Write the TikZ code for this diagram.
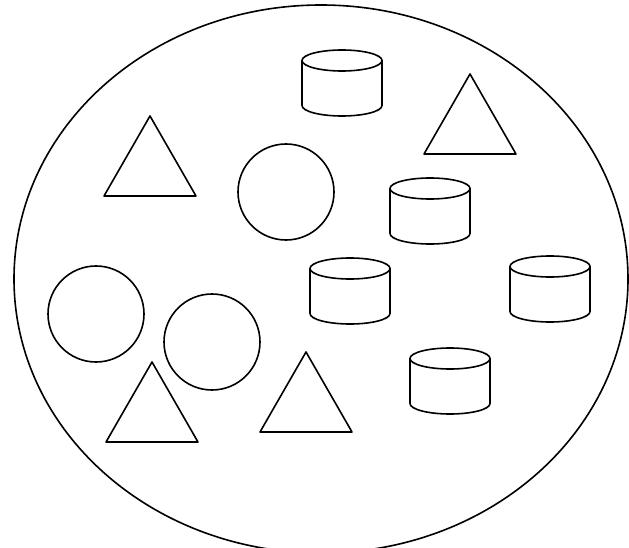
\documentclass[tikz,border=0pt]{standalone}
\begin{document}
\begin{tikzpicture}[
    x=1pt, y=-1pt,
    line cap=round,
    line join=round,
    outline/.style={line width=1.6pt},
    figure/.style={line width=1.6pt}
]
\useasboundingbox (0,0) rectangle (629,548);

% -------------------------------------------------
% Большой овал (множество)
% -------------------------------------------------
\coordinate (O) at (321,279);
\draw[outline] (O) ellipse [x radius=307, y radius=274];

% -------------------------------------------------
% Круги
% -------------------------------------------------
\coordinate (K1) at (286,192);  % верхний
\coordinate (K2) at (96,314);   % левый
\coordinate (K3) at (212,342);  % правее левого

\foreach \k in {K1,K2,K3}
    \draw[figure] (\k) circle [radius=48];

% -------------------------------------------------
% Треугольники (по вершине)
% -------------------------------------------------
\coordinate (T1) at (150,116);  % левый верхний
\coordinate (T2) at (470,74);   % правый верхний
\coordinate (T3) at (152,362);  % левый нижний
\coordinate (T4) at (306,352);  % средний нижний

\foreach \t in {T1,T2,T3,T4}
    \draw[figure] (\t) -- ++(46,80) -- ++(-92,0) -- cycle;

% -------------------------------------------------
% Цилиндры (левый верхний угол)
% -------------------------------------------------
\coordinate (Z1) at (302,50);
\coordinate (Z2) at (390,178);
\coordinate (Z3) at (310,258);
\coordinate (Z4) at (510,256);
\coordinate (Z5) at (410,348);

\foreach \z in {Z1,Z2,Z3,Z4,Z5}{
    % верхняя крышка
    \draw[figure] ([shift={(40,10.5)}]\z) ellipse [x radius=40, y radius=10.5];
    % боковые стенки и дно
    \draw[figure] ([shift={(0,10.5)}]\z) -- ++(0,45)
        arc [start angle=180, end angle=0, x radius=40, y radius=10.5]
        -- ++(0,-45);
}

\end{tikzpicture}
\end{document}
